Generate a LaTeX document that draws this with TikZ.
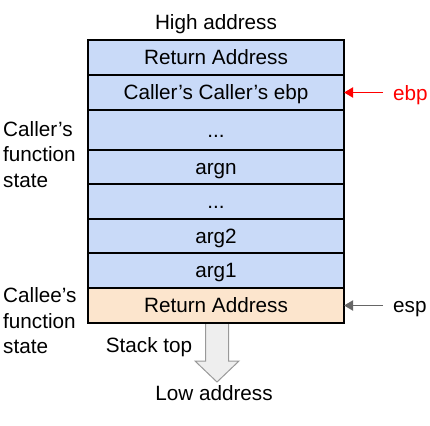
\documentclass[tikz,border=0pt]{standalone}
\usepackage{fontspec}
\setmainfont{Liberation Sans}
\usetikzlibrary{arrows.meta}
\definecolor{cblue}{HTML}{C9DAF8}
\definecolor{corange}{HTML}{FCE5CD}
\definecolor{ptrgray}{HTML}{666666}
\definecolor{arrfill}{HTML}{EEEEEE}
\definecolor{arrdraw}{HTML}{999999}
\begin{document}
\begin{tikzpicture}[x=1pt,y=-1pt,
  font=\fontsize{20.7}{25.5}\selectfont,
  cell/.style={draw=black, line width=1.4pt, fill=cblue, minimum width=256pt,
    anchor=north west, inner sep=0pt, outer sep=0pt, text height=15pt, text depth=1pt},
  lbl/.style={inner sep=0pt},
  ptr/.style={-{Triangle[length=9pt,width=10pt]}, line width=1.8pt}]
\useasboundingbox (0,0) rectangle (430,425);
% big down arrow (drawn first, box border covers its top)
\coordinate (tipl) at (205.5,323);
\draw[fill=arrfill, draw=arrdraw, line width=1pt, line join=miter]
  (tipl) -- ++(0,38) -- ++(-10.5,0) -- ++(22,21) -- ++(22,-21) -- ++(-10.5,0) -- ++(0,-38);
% stack cells
\node[cell, minimum height=35pt] (r1) at (88,40) {Return Address};
\node[cell, minimum height=35pt] (r2) at (88,75) {Caller’s Caller’s ebp};
\node[cell, minimum height=40pt] (r3) at (88,110) {...};
\node[cell, minimum height=34pt] (r4) at (88,150) {argn};
\node[cell, minimum height=35pt] (r5) at (88,184) {...};
\node[cell, minimum height=34pt] (r6) at (88,219) {arg2};
\node[cell, minimum height=35pt] (r7) at (88,253) {arg1};
\node[cell, minimum height=35pt, fill=corange] (r8) at (88,288) {Return Address};
% labels
\node[lbl, anchor=base] (high) at (216,29.5) {High address};
\node[lbl, align=left, anchor=west] (caller) at (3,154.5) {Caller’s\\function\\state};
\node[lbl, align=left, anchor=west] (callee) at (3,320.7) {Callee’s\\function\\state};
\node[lbl, anchor=base] (stacktop) at (149,352) {Stack top};
\node[lbl, anchor=base] (low) at (214,400) {Low address};
\node[lbl, anchor=base west, text=red] (ebp) at (393,100) {ebp};
\node[lbl, anchor=base west] (esp) at (393,312) {esp};
% pointers
\coordinate (ebptail) at (383,92.5);
\coordinate (esptail) at (383,305.5);
\draw[ptr, red] (ebptail) -- (r2.east);
\draw[ptr, ptrgray] (esptail) -- (r8.east);
\end{tikzpicture}
\end{document}
